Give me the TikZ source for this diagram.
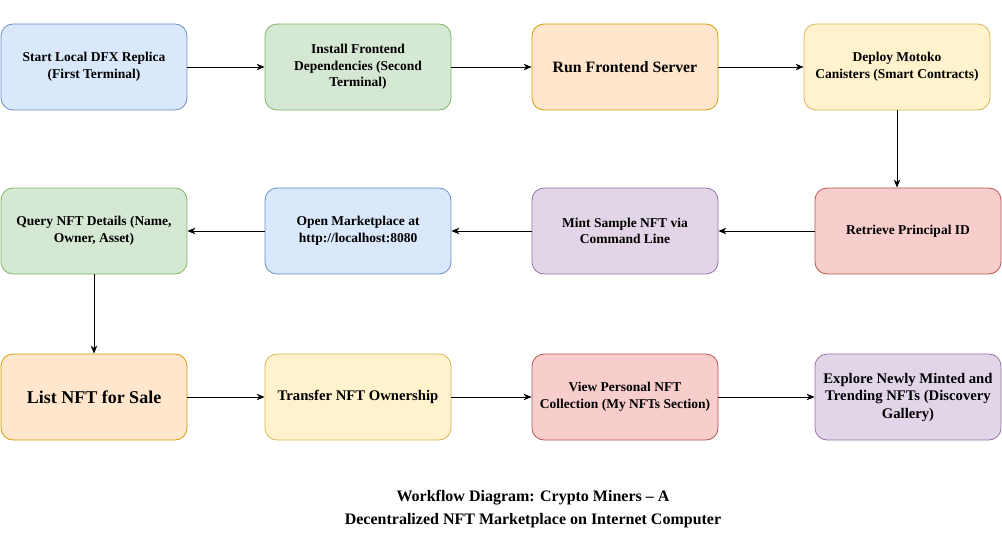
\documentclass[tikz,border=0pt]{standalone}
\usepackage{fontspec}
\setmainfont{Liberation Serif}[BoldFont={Liberation Serif Bold}]
\usetikzlibrary{arrows.meta}
\definecolor{bfill}{HTML}{DAE8FC}\definecolor{bline}{HTML}{6C8EBF}
\definecolor{gfill}{HTML}{D5E8D4}\definecolor{gline}{HTML}{82B366}
\definecolor{ofill}{HTML}{FFE6CC}\definecolor{oline}{HTML}{D79B00}
\definecolor{yfill}{HTML}{FFF2CC}\definecolor{yline}{HTML}{D6B656}
\definecolor{rfill}{HTML}{F8CECC}\definecolor{rline}{HTML}{B85450}
\definecolor{pfill}{HTML}{E1D5E7}\definecolor{pline}{HTML}{9673A6}
\tikzset{
  box/.style={draw, rounded corners=12pt, minimum width=186pt, minimum height=86pt,
    align=center, font=\bfseries\fontsize{13.5}{16.5}\selectfont, inner sep=2pt, line width=0.8pt},
  bluebox/.style={box, fill=bfill, draw=bline},
  greenbox/.style={box, fill=gfill, draw=gline},
  orangebox/.style={box, fill=ofill, draw=oline},
  yellowbox/.style={box, fill=yfill, draw=yline},
  redbox/.style={box, fill=rfill, draw=rline},
  purplebox/.style={box, fill=pfill, draw=pline},
  flow/.style={-{Stealth[length=8pt,width=6.5pt,inset=2.5pt]}, line width=0.9pt, black},
}
\begin{document}
\begin{tikzpicture}[x=1pt,y=-1pt]
\useasboundingbox (0,0) rectangle (1002,551);
% row 1
\node[bluebox]   (n1) at (94,67)  {Start Local DFX Replica\\(First Terminal)};
\node[greenbox]  (n2) at (358,67) {Install Frontend\\Dependencies (Second\\Terminal)};
\node[orangebox, font=\bfseries\fontsize{15.8}{18}\selectfont] (n3) at (625,67) {Run Frontend Server};
\node[yellowbox] (n4) at (897,67) {Deploy Motoko\\Canisters (Smart Contracts)};
% row 2
\node[redbox]    (n5) at (908,231) {Retrieve Principal ID};
\node[purplebox] (n6) at (625,231) {Mint Sample NFT via\\Command Line};
\node[bluebox]   (n7) at (358,231) {Open Marketplace at\\http://localhost:8080};
\node[greenbox]  (n8) at (94,231)  {Query NFT Details (Name,\\Owner, Asset)};
% row 3
\node[orangebox, font=\bfseries\fontsize{18}{20}\selectfont] (n9) at (94,397) {List NFT for Sale};
\node[yellowbox, font=\bfseries\fontsize{14.7}{17}\selectfont] (n10) at (358,397) {Transfer NFT Ownership};
\node[redbox]    (n11) at (625,397) {View Personal NFT\\Collection (My NFTs Section)};
\node[purplebox, font=\bfseries\fontsize{14.7}{17.5}\selectfont] (n12) at (908,397) {Explore Newly Minted and\\Trending NFTs (Discovery\\Gallery)};
% connectors
\draw[flow] (n1) -- (n2);
\draw[flow] (n2) -- (n3);
\draw[flow] (n3) -- (n4);
\draw[flow] (n4.south) -- (n4.south |- n5.north);
\draw[flow] (n5) -- (n6);
\draw[flow] (n6) -- (n7);
\draw[flow] (n7) -- (n8);
\draw[flow] (n8) -- (n9);
\draw[flow] (n9) -- (n10);
\draw[flow] (n10) -- (n11);
\draw[flow] (n11) -- (n12);
% title
\node[align=center, font=\bfseries\fontsize{16}{23}\selectfont] (title) at (533,509)
  {Workflow Diagram: Crypto Miners -- A\\Decentralized NFT Marketplace on Internet Computer};
\end{tikzpicture}
\end{document}
